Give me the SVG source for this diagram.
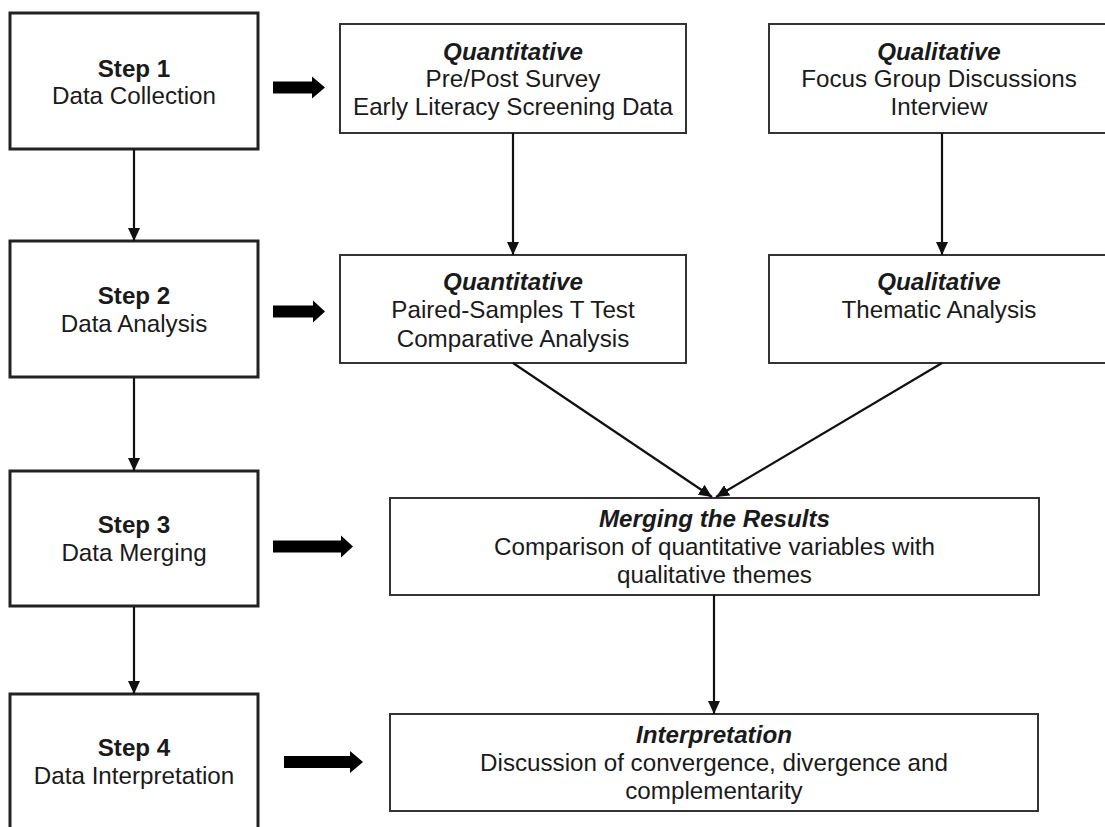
<svg xmlns="http://www.w3.org/2000/svg" width="1105" height="827" viewBox="0 0 1105 827">
<style>
.step{fill:#fff;stroke:#222;stroke-width:3}
.box{fill:#fff;stroke:#333;stroke-width:2}
text{font-family:"Liberation Sans",Arial,sans-serif;font-size:24.2px;fill:#1a1a1a;text-anchor:middle}
.b{font-weight:bold}
.bi{font-weight:bold;font-style:italic}
.con{stroke:#111;stroke-width:2.2;fill:none;marker-end:url(#ah)}
.blk{fill:#000}
</style>
<defs>
<marker id="ah" markerUnits="userSpaceOnUse" markerWidth="14" markerHeight="12" refX="13" refY="6" orient="auto">
<path d="M0,0 L13,6 L0,12 Z" fill="#111"/>
</marker>
</defs>
<rect width="1105" height="827" fill="#fff"/>
<g id="step1"><rect class="step" x="10" y="13" width="248" height="136"/><text class="b" x="134" y="77">Step 1</text><text x="134" y="104">Data Collection</text></g>
<g id="step2"><rect class="step" x="10" y="241" width="248" height="136"/><text class="b" x="134" y="304">Step 2</text><text x="134" y="332">Data Analysis</text></g>
<g id="step3"><rect class="step" x="10" y="471" width="248" height="135"/><text class="b" x="134" y="533">Step 3</text><text x="134" y="561">Data Merging</text></g>
<g id="step4"><rect class="step" x="10" y="694" width="248" height="136"/><text class="b" x="134" y="756">Step 4</text><text x="134" y="784">Data Interpretation</text></g>
<g id="quant1"><rect class="box" x="340" y="24" width="346" height="109"/><text class="bi" x="513" y="60">Quantitative</text><text x="513" y="87">Pre/Post Survey</text><text x="513" y="115">Early Literacy Screening Data</text></g>
<g id="qual1"><rect class="box" x="769" y="24" width="343" height="109"/><text class="bi" x="939" y="60">Qualitative</text><text x="939" y="87">Focus Group Discussions</text><text x="939" y="115">Interview</text></g>
<g id="quant2"><rect class="box" x="340" y="255" width="346" height="108"/><text class="bi" x="513" y="290">Quantitative</text><text x="513" y="318">Paired-Samples T Test</text><text x="513" y="347">Comparative Analysis</text></g>
<g id="qual2"><rect class="box" x="769" y="255" width="343" height="108"/><text class="bi" x="939" y="290">Qualitative</text><text x="939" y="318">Thematic Analysis</text></g>
<g id="merge"><rect class="box" x="390" y="498" width="649" height="97"/><text class="bi" x="714.5" y="527">Merging the Results</text><text x="714.5" y="555">Comparison of quantitative variables with</text><text x="714.5" y="583">qualitative themes</text></g>
<g id="interp"><rect class="box" x="390" y="714" width="648" height="97"/><text class="bi" x="714" y="743">Interpretation</text><text x="714" y="771">Discussion of convergence, divergence and</text><text x="714" y="799">complementarity</text></g>
<g id="connectors">
<line class="con" x1="134" y1="150" x2="134" y2="241"/>
<line class="con" x1="134" y1="378" x2="134" y2="471"/>
<line class="con" x1="134" y1="607" x2="134" y2="694"/>
<line class="con" x1="513" y1="133" x2="513" y2="255"/>
<line class="con" x1="942" y1="133" x2="942" y2="255"/>
<line class="con" x1="513" y1="363" x2="712" y2="497"/>
<line class="con" x1="942" y1="363" x2="716" y2="497"/>
<line class="con" x1="714" y1="595" x2="714" y2="714"/>
<polygon class="blk" points="273,81.5 312,81.5 312,76.5 325,87.5 312,98.5 312,93.5 273,93.5"/>
<polygon class="blk" points="273,305.5 313,305.5 313,300.5 325,311.5 313,322.5 313,317.5 273,317.5"/>
<polygon class="blk" points="273,540.5 341,540.5 341,535.5 353,546.5 341,557.5 341,552.5 273,552.5"/>
<polygon class="blk" points="284,756 350,756 350,751 363,762 350,773 350,768 284,768"/>
</g>
</svg>
